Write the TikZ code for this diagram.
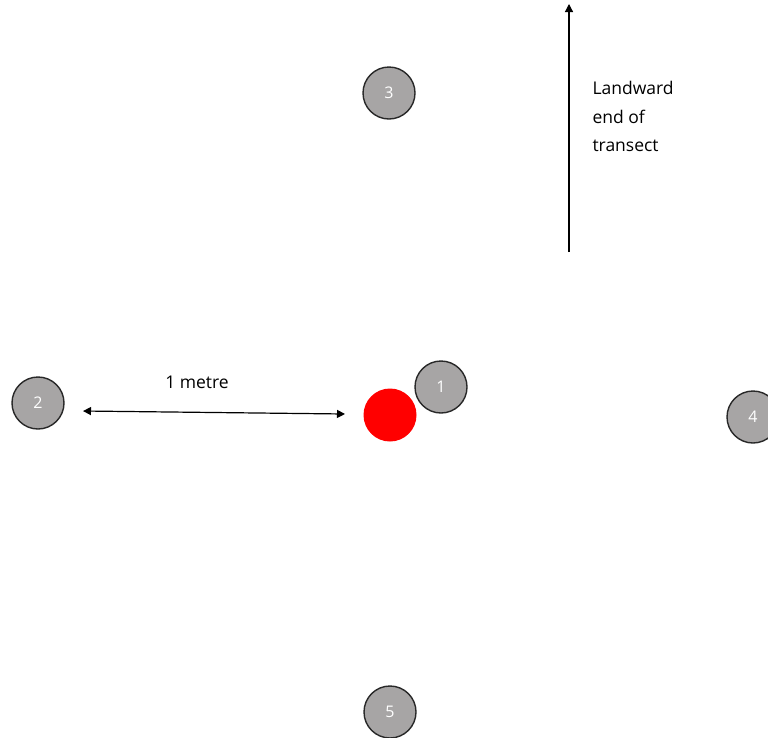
\documentclass[tikz,border=0pt]{standalone}
\usepackage{fontspec}
\setmainfont{Open Sans}
\usetikzlibrary{arrows.meta}
\definecolor{markgray}{RGB}{167,165,165}
\definecolor{rimgray}{RGB}{40,40,40}
\begin{document}
\begin{tikzpicture}[x=1pt,y=-1pt]
\tikzstyle{every node}=[font=\fontsize{17.5}{28.5}\selectfont]
\tikzstyle{quadrat}=[circle, fill=markgray, draw=rimgray, line width=1.4pt, minimum size=52pt, inner sep=0pt, text=white, font=\fontsize{16}{20}\selectfont]
\tikzstyle{pointer}=[line width=1.2pt, -{Triangle[length=8pt,width=8pt]}]

% white background fixes the frame
\useasboundingbox [fill=white] (0,0) rectangle (768,737);

% the numbered quadrats
\node [quadrat] (q3) at (389,93) {3};
\node [quadrat] (q2) at (38,403) {2};
\node [quadrat] (q1) at (441,387) {1};
\node [quadrat] (q4) at (753,417) {4};
\node [quadrat] (q5) at (390,712) {5};

% the central point
\node [circle, fill=red, minimum size=53pt, inner sep=0pt] (centre) at (390,415) {};

% scale bar
\coordinate (barl) at (83,411);
\coordinate (barr) at (345,414);
\draw [pointer, {Triangle[length=8pt,width=8pt]}-{Triangle[length=8pt,width=8pt]}] (barl) -- (barr);
\node (metre) at (197,382) {1 metre};

% direction of the transect
\coordinate (tail) at (569,252);
\coordinate (head) at (569,4);
\draw [pointer] (tail) -- (head);
\node [anchor=north west, align=left] (land) at (589,78) {Landward\\end of\\transect};

\end{tikzpicture}
\end{document}
